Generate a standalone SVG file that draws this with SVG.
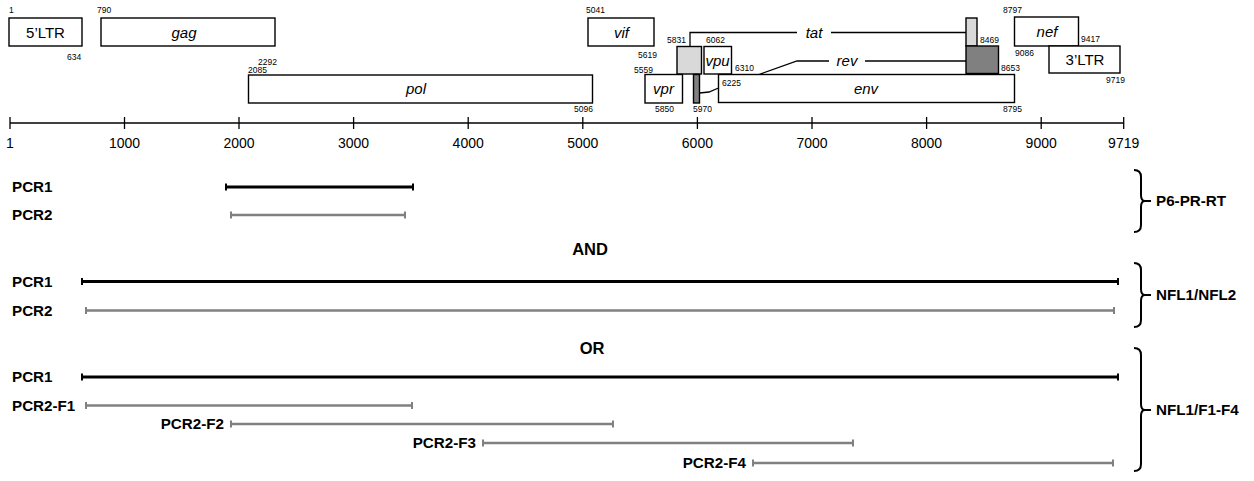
<svg xmlns="http://www.w3.org/2000/svg" width="1254" height="481" viewBox="0 0 1254 481">
<defs>
<style>
text{font-family:"Liberation Sans",Arial,Helvetica,sans-serif;fill:#000}
.box{fill:#fff;stroke:#000;stroke-width:1.4}
.lg{fill:#d9d9d9;stroke:#000;stroke-width:1.4}
.dg{fill:#808080;stroke:#000;stroke-width:1.4}
.gn{font-size:15px;font-style:italic;text-anchor:middle}
.ltr{font-size:15px;text-anchor:middle}
.num{font-size:8.5px}
.ax{font-size:14px;text-anchor:middle}
.thin{fill:none;stroke:#000;stroke-width:1.3}
.pl{font-size:15.2px;font-weight:bold}
.pr{font-size:15.2px;font-weight:bold;text-anchor:end}
.big{font-size:16.5px;font-weight:bold;text-anchor:middle}
.blk{stroke:#000;stroke-width:3;marker-start:url(#ck);marker-end:url(#ck)}
.gry{stroke:#808080;stroke-width:2.6;marker-start:url(#cg);marker-end:url(#cg)}
.br{fill:none;stroke:#000;stroke-width:2}
</style>
<marker id="ck" markerUnits="userSpaceOnUse" markerWidth="4" markerHeight="10" viewBox="-2 -5 4 10" refX="0" refY="0" orient="auto"><rect x="-1" y="-3.5" width="2" height="7" fill="#000"/></marker>
<marker id="cg" markerUnits="userSpaceOnUse" markerWidth="4" markerHeight="10" viewBox="-2 -5 4 10" refX="0" refY="0" orient="auto"><rect x="-1" y="-3.5" width="2" height="7" fill="#808080"/></marker>
</defs>
<rect width="1254" height="481" fill="#fff"/>

<g id="connectors">
<polyline class="thin" points="690,46 690,32.5 797,32.5"/>
<line class="thin" x1="831" y1="32.5" x2="966" y2="32.5"/>
<polyline class="thin" points="759,74.5 797,61 829,61"/>
<line class="thin" x1="865" y1="61" x2="966" y2="61"/>
<polyline class="thin" points="699.5,93 709,92 718.5,88"/>
</g>

<g id="ltr5"><rect class="box" x="9" y="18" width="73" height="28"/><text class="ltr" x="45.5" y="37.5">5’LTR</text></g>
<g id="gag"><rect class="box" x="101" y="18" width="174" height="28"/><text class="gn" x="184" y="37.5">gag</text></g>
<g id="pol"><rect class="box" x="248.5" y="75" width="344" height="28"/><text class="gn" x="416" y="94">pol</text></g>
<g id="vif"><rect class="box" x="588" y="18" width="66" height="28"/><text class="gn" x="621.5" y="37.5">vif</text></g>
<g id="tat1"><rect class="lg" x="677" y="46.5" width="24.5" height="27.5"/></g>
<g id="vpu"><rect class="box" x="704" y="46.5" width="27.5" height="27.5"/><text class="gn" x="717.5" y="66">vpu</text></g>
<g id="vpr"><rect class="box" x="645" y="74.5" width="37.5" height="28.5"/><text class="gn" x="663.5" y="94">vpr</text></g>
<g id="rev1"><rect class="dg" x="693.5" y="74.5" width="6" height="28.5"/></g>
<g id="env"><rect class="box" x="718.5" y="74.5" width="296" height="28"/><text class="gn" x="866" y="94">env</text></g>
<g id="tat2"><rect class="lg" x="966" y="18" width="11" height="28"/><text class="gn" x="814" y="37.5">tat</text></g>
<g id="rev2"><rect class="dg" x="966" y="46" width="32.5" height="27.5"/><text class="gn" x="847" y="66">rev</text></g>
<g id="nef"><rect class="box" x="1014.5" y="17" width="64" height="29"/><text class="gn" x="1047" y="37">nef</text></g>
<g id="ltr3"><rect class="box" x="1049" y="46" width="71" height="27"/><text class="ltr" x="1085" y="65">3’LTR</text></g>

<g id="coords">
<text class="num" x="9" y="13">1</text>
<text class="num" x="97" y="13">790</text>
<text class="num" x="67" y="60">634</text>
<text class="num" x="258" y="65">2292</text>
<text class="num" x="248" y="73">2085</text>
<text class="num" x="574" y="112">5096</text>
<text class="num" x="586" y="13">5041</text>
<text class="num" x="638" y="58">5619</text>
<text class="num" x="634" y="73">5559</text>
<text class="num" x="667" y="43">5831</text>
<text class="num" x="706" y="43">6062</text>
<text class="num" x="735" y="71">6310</text>
<text class="num" x="722" y="86">6225</text>
<text class="num" x="655" y="112">5850</text>
<text class="num" x="693" y="112">5970</text>
<text class="num" x="980" y="43">8469</text>
<text class="num" x="1001" y="71">8653</text>
<text class="num" x="1003" y="112">8795</text>
<text class="num" x="1003" y="13">8797</text>
<text class="num" x="1015" y="56">9086</text>
<text class="num" x="1081" y="42">9417</text>
<text class="num" x="1106" y="83">9719</text>
</g>

<g id="axis">
<line x1="10" y1="123" x2="1123.7" y2="123" stroke="#000" stroke-width="1.5"/>
<g stroke="#000" stroke-width="1.3">
<line x1="10" y1="117" x2="10" y2="129"/>
<line x1="124.5" y1="117" x2="124.5" y2="129"/>
<line x1="239" y1="117" x2="239" y2="129"/>
<line x1="353.6" y1="117" x2="353.6" y2="129"/>
<line x1="468.2" y1="117" x2="468.2" y2="129"/>
<line x1="582.8" y1="117" x2="582.8" y2="129"/>
<line x1="697.4" y1="117" x2="697.4" y2="129"/>
<line x1="812" y1="117" x2="812" y2="129"/>
<line x1="926.6" y1="117" x2="926.6" y2="129"/>
<line x1="1041.2" y1="117" x2="1041.2" y2="129"/>
<line x1="1123.7" y1="117" x2="1123.7" y2="129"/>
</g>
<text class="ax" x="10" y="148">1</text>
<text class="ax" x="124.5" y="148">1000</text>
<text class="ax" x="239" y="148">2000</text>
<text class="ax" x="353.6" y="148">3000</text>
<text class="ax" x="468.2" y="148">4000</text>
<text class="ax" x="582.8" y="148">5000</text>
<text class="ax" x="697.4" y="148">6000</text>
<text class="ax" x="812" y="148">7000</text>
<text class="ax" x="926.6" y="148">8000</text>
<text class="ax" x="1041.2" y="148">9000</text>
<text class="ax" x="1123.7" y="148">9719</text>
</g>

<g id="p6">
<text class="pl" x="12" y="192">PCR1</text>
<line class="blk" x1="226" y1="187" x2="413" y2="187"/>
<text class="pl" x="12" y="220">PCR2</text>
<line class="gry" x1="231" y1="215" x2="405" y2="215"/>
<path class="br" d="M1134,170 Q1141,170 1141,177 L1141,195 Q1141,201 1145,201 Q1141,201 1141,207 L1141,225 Q1141,232 1134,232 M1145,201 L1151,201"/>
<text class="pl" x="1156" y="206">P6-PR-RT</text>
</g>

<text class="big" x="590" y="255">AND</text>

<g id="nfl">
<text class="pl" x="12" y="287">PCR1</text>
<line class="blk" x1="82" y1="281.5" x2="1118" y2="281.5"/>
<text class="pl" x="12" y="316">PCR2</text>
<line class="gry" x1="86" y1="310.5" x2="1114" y2="310.5"/>
<path class="br" d="M1134,263 Q1141,263 1141,270 L1141,289 Q1141,295 1145,295 Q1141,295 1141,301 L1141,320 Q1141,327 1134,327 M1145,295 L1151,295"/>
<text class="pl" x="1156" y="300">NFL1/NFL2</text>
</g>

<text class="big" x="592" y="354">OR</text>

<g id="f14">
<text class="pl" x="12" y="382">PCR1</text>
<line class="blk" x1="82" y1="377" x2="1118" y2="377"/>
<text class="pl" x="12" y="411">PCR2-F1</text>
<line class="gry" x1="86" y1="405.5" x2="412" y2="405.5"/>
<text class="pr" x="224" y="429">PCR2-F2</text>
<line class="gry" x1="231" y1="424" x2="613" y2="424"/>
<text class="pr" x="476" y="448">PCR2-F3</text>
<line class="gry" x1="483" y1="443" x2="853" y2="443"/>
<text class="pr" x="746" y="468">PCR2-F4</text>
<line class="gry" x1="753" y1="463" x2="1113" y2="463"/>
<path class="br" d="M1134,348 Q1141,348 1141,355 L1141,404 Q1141,410 1145,410 Q1141,410 1141,416 L1141,464 Q1141,471 1134,471 M1145,410 L1151,410"/>
<text class="pl" x="1156" y="415">NFL1/F1-F4</text>
</g>
</svg>
